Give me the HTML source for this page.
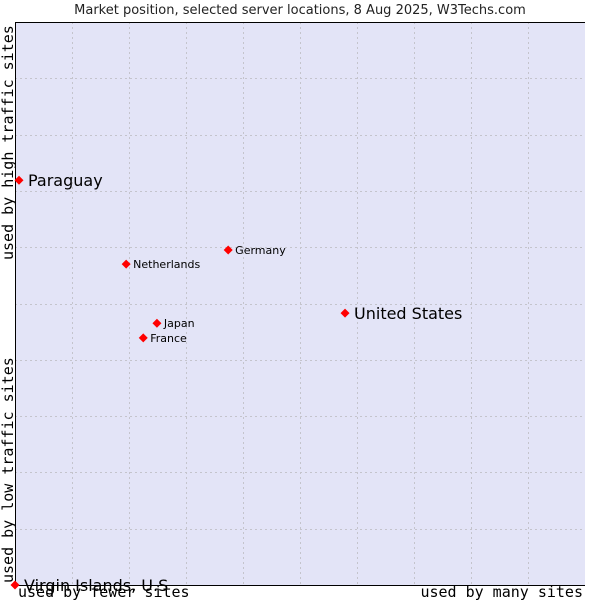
<!DOCTYPE html>
<html><head><meta charset="utf-8"><style>
body{margin:0;background:#fff;width:600px;height:600px;overflow:hidden}
svg{display:block}
</style></head><body>
<svg id="chart" width="600" height="600">
<text x="300" y="14" text-anchor="middle" font-family="DejaVu Sans, sans-serif" font-size="13" fill="#222">Market position, selected server locations, 8 Aug 2025, W3Techs.com</text>
<rect x="15" y="22" width="570" height="563" fill="#e3e4f7"/>
<g id="grid"></g>
<path d="M15.5 22V585.5H585" fill="none" stroke="#000" stroke-width="1"/>
<line x1="15" y1="22.5" x2="585" y2="22.5" stroke="#000"/>
<text transform="translate(13,260) rotate(-90)" font-family="DejaVu Sans Mono, monospace" font-size="15" fill="#000">used by high traffic sites</text>
<text transform="translate(13,583) rotate(-90)" font-family="DejaVu Sans Mono, monospace" font-size="15" fill="#000">used by low traffic sites</text>
<text x="18" y="597" font-family="DejaVu Sans Mono, monospace" font-size="15" fill="#000">used by fewer sites</text>
<text x="583" y="597" text-anchor="end" font-family="DejaVu Sans Mono, monospace" font-size="15" fill="#000">used by many sites</text>
<g id="points"></g>
</svg>
<script>
const names=["Paraguay","United States","Germany","Netherlands","Japan","France","Virgin Islands, U.S"];
const xVals=[0.7,57.9,37.4,19.5,24.9,22.5,0];
const yVals=[71.9,48.3,59.5,57.0,46.5,43.9,0];
const bigLabel=[true,true,false,false,false,false,true];
const NS="http://www.w3.org/2000/svg";
const X0=15,X1=585,Y0=585,Y1=22;
function sx(v){return X0+v/100*(X1-X0);}
function sy(v){return Y0-v/100*(Y0-Y1);}
const grid=document.getElementById('grid');
for(let i=1;i<10;i++){
  const gx=Math.round(sx(i*10))+0.5, gy=Math.round(sy(i*10))+0.5;
  const l1=document.createElementNS(NS,'line');
  l1.setAttribute('x1',gx);l1.setAttribute('x2',gx);l1.setAttribute('y1',Y1);l1.setAttribute('y2',Y0);
  l1.setAttribute('stroke','#c4c4cc');l1.setAttribute('stroke-dasharray','2,3');
  
  
  grid.appendChild(l1);
  const l2=document.createElementNS(NS,'line');
  l2.setAttribute('y1',gy);l2.setAttribute('y2',gy);l2.setAttribute('x1',X0);l2.setAttribute('x2',X1);
  l2.setAttribute('stroke','#c4c4cc');l2.setAttribute('stroke-dasharray','2,3');
  
  
  grid.appendChild(l2);
}
const pts=document.getElementById('points');
names.forEach((n,i)=>{
  const cx=sx(xVals[i]), cy=sy(yVals[i]);
  const p=document.createElementNS(NS,'path');
  p.setAttribute('d',`M${cx} ${cy-4.5}L${cx+4.5} ${cy}L${cx} ${cy+4.5}L${cx-4.5} ${cy}Z`);
  p.setAttribute('fill','#f00');
  
  
  pts.appendChild(p);
  const t=document.createElementNS(NS,'text');
  const big=bigLabel[i];
  t.setAttribute('x',cx+(big?9:7));
  t.setAttribute('y',cy+(big?6:4));
  t.setAttribute('font-family','DejaVu Sans, sans-serif');
  t.setAttribute('font-size',big?16:11);
  t.setAttribute('fill','#000');
  t.textContent=n;
  
  
  pts.appendChild(t);
});
</script>
</body></html>
